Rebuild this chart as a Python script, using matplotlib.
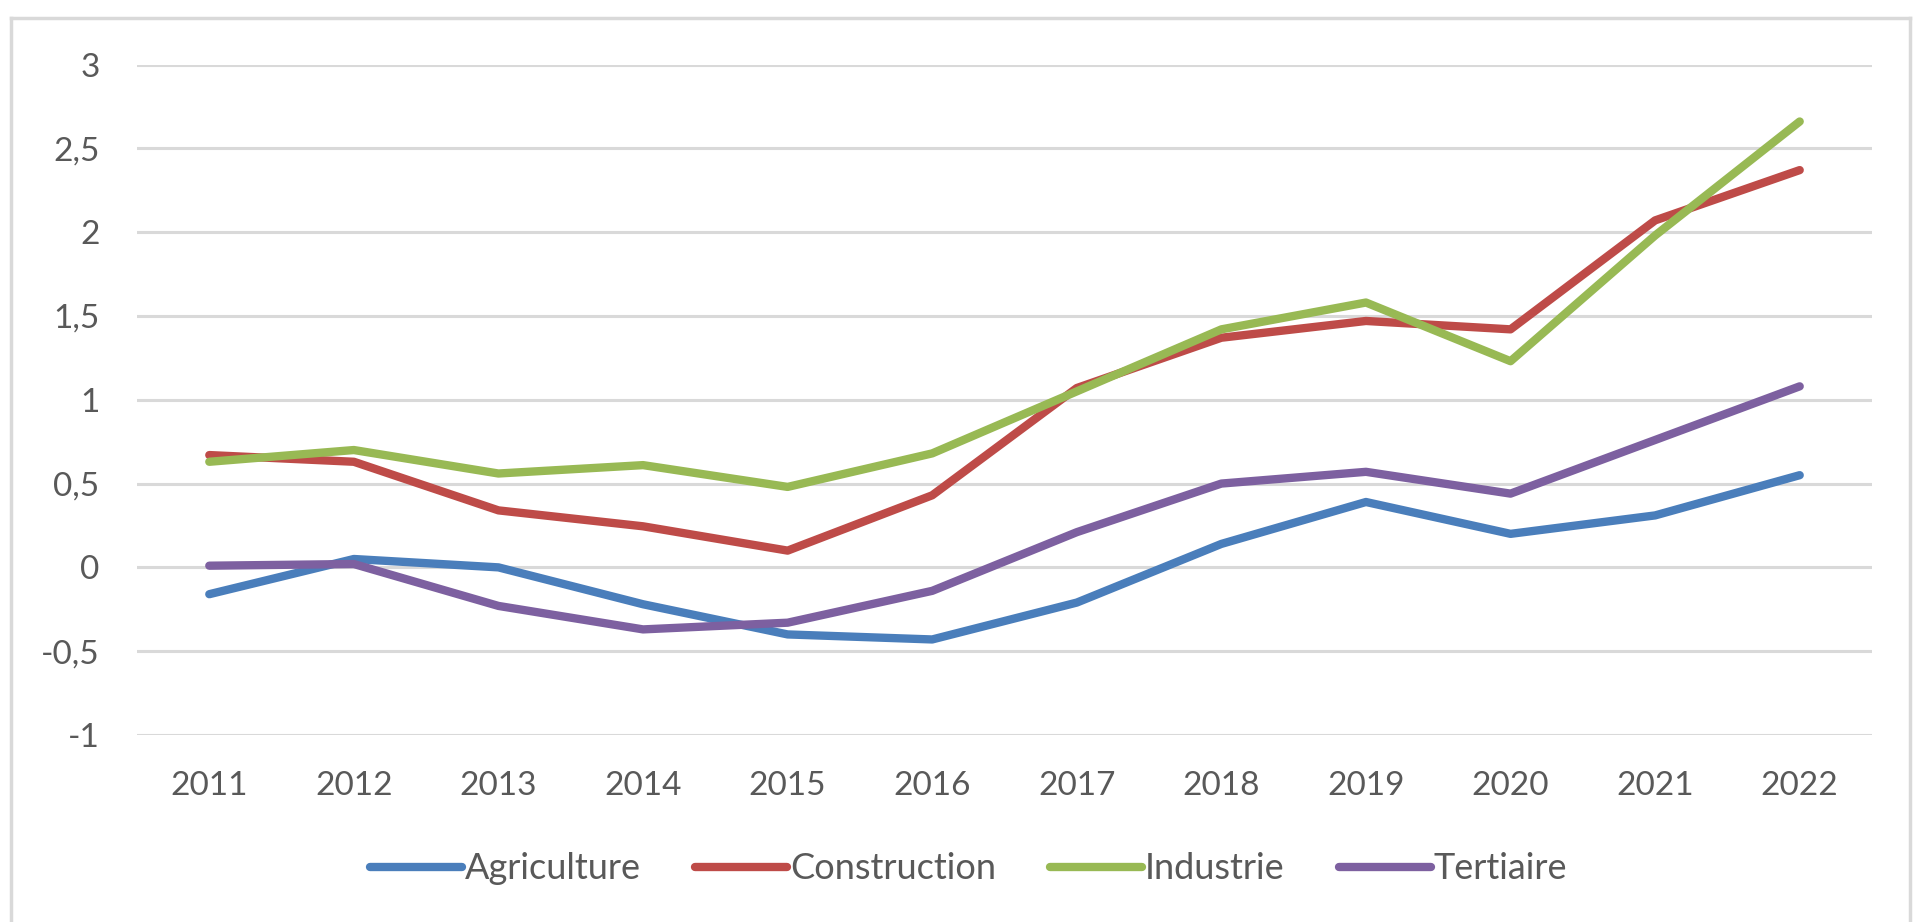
import numpy as np
import matplotlib.pyplot as plt
from matplotlib.lines import Line2D
from matplotlib.ticker import FuncFormatter

plt.rcParams['font.family'] = ['Lato', 'DejaVu Sans']

years = [2011, 2012, 2013, 2014, 2015, 2016, 2017, 2018, 2019, 2020, 2021, 2022]
agriculture = [-0.16, 0.05, 0.0, -0.22, -0.40, -0.43, -0.21, 0.14, 0.39, 0.20, 0.31, 0.55]
construction = [0.67, 0.63, 0.34, 0.245, 0.10, 0.43, 1.07, 1.37, 1.47, 1.42, 2.07, 2.37]
industrie = [0.63, 0.70, 0.56, 0.61, 0.48, 0.68, 1.05, 1.42, 1.58, 1.23, 1.98, 2.66]
tertiaire = [0.01, 0.02, -0.23, -0.37, -0.33, -0.14, 0.21, 0.50, 0.57, 0.44, 0.76, 1.08]

series = [('Agriculture', agriculture, '#4a7ebb'),
          ('Construction', construction, '#be4b48'),
          ('Industrie', industrie, '#98b954'),
          ('Tertiaire', tertiaire, '#7d60a0')]

fig = plt.figure(figsize=(19.18, 9.22), dpi=100)
ax = fig.add_axes([137/1918, 1 - 735/922, (1872-137)/1918, (735-64.5)/922])

x = np.arange(len(years))
for name, vals, col in series:
    ax.plot(x, vals, color=col, lw=6, label=name, solid_capstyle='round', solid_joinstyle='round')

ax.set_xlim(-0.5, len(years) - 0.5)
ax.set_ylim(-1, 3)
ax.set_yticks(np.arange(-1, 3.01, 0.5))
ax.yaxis.set_major_formatter(FuncFormatter(lambda v, p: ('%g' % v).replace('.', ',')))
ax.set_xticks(x)
ax.set_xticklabels([str(y) for y in years])
ax.grid(axis='y', color='#d9d9d9', lw=2.2)
ax.set_axisbelow(True)
for s in ax.spines.values():
    s.set_visible(False)
ax.tick_params(axis='both', length=0, labelsize=24, labelcolor='#595959')
ax.tick_params(axis='y', pad=27)
ax.tick_params(axis='x', pad=26)

leg = fig.legend(loc='center', bbox_to_anchor=(0.505, 0.0575), ncol=4, frameon=False,
                 fontsize=26, handlelength=2.55, handletextpad=0.08, columnspacing=1.5)
for t in leg.get_texts():
    t.set_color('#595959')

# light chart border (left, top, right)
bc = '#d9d9d9'
fig.add_artist(Line2D([11/1918, 11/1918], [0, 1 - 18/922], color=bc, lw=2.5))
fig.add_artist(Line2D([11/1918, 1910/1918], [1 - 18/922, 1 - 18/922], color=bc, lw=2.5))
fig.add_artist(Line2D([1910/1918, 1910/1918], [0, 1 - 18/922], color=bc, lw=2.5))

fig.savefig('out.png', dpi=100)
